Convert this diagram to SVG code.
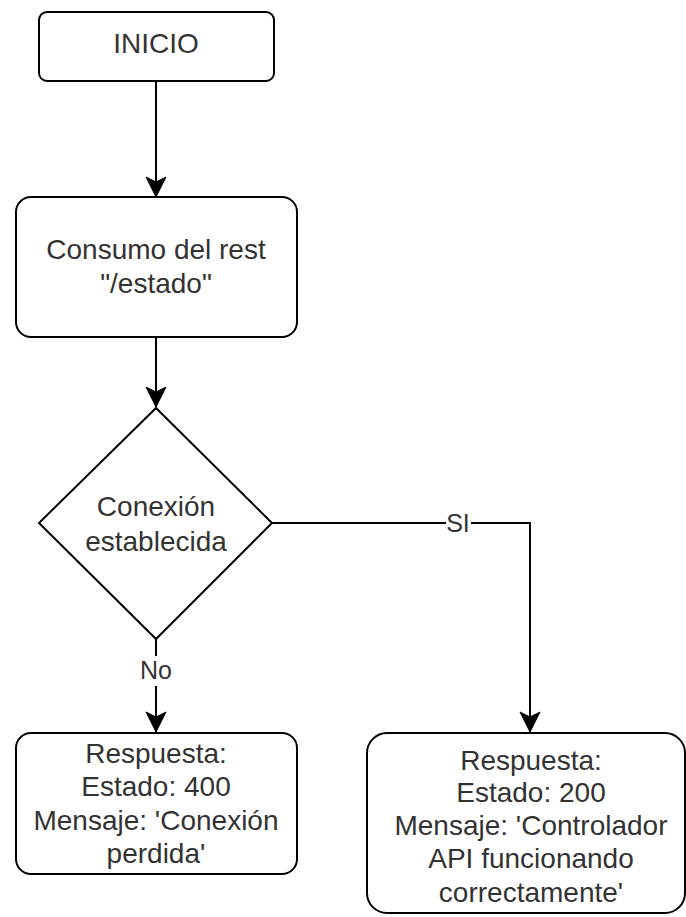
<svg xmlns="http://www.w3.org/2000/svg" width="686" height="917" viewBox="0 0 686 917">
<style>
.box{fill:#fff;stroke:#000;stroke-width:2}
.t{font-family:"Liberation Sans",Arial,sans-serif;font-size:28px;fill:#333;text-anchor:middle}
.lbl{font-family:"Liberation Sans",Arial,sans-serif;font-size:25px;fill:#333;text-anchor:middle}
.edge{fill:none;stroke:#000;stroke-width:2}
</style>
<defs>
<marker id="arr" markerUnits="userSpaceOnUse" markerWidth="24" markerHeight="24" viewBox="-22 -12 24 24" refX="0" refY="0" orient="auto">
<path d="M0,0 L-20,-10 L-15,0 L-20,10 Z" fill="#000" stroke="#000" stroke-width="1"/>
</marker>
</defs>
<rect width="686" height="917" fill="#fff"/>
<g id="connectors">
<path class="edge" d="M156,81 L156,197" marker-end="url(#arr)"/>
<path class="edge" d="M156,337 L156,407" marker-end="url(#arr)"/>
<path class="edge" d="M156,639 L156,732" marker-end="url(#arr)"/>
<path class="edge" d="M272,523 L530,523 L530,732" marker-end="url(#arr)"/>
<rect x="143" y="656" width="27" height="30" fill="#fff"/>
<text class="lbl" x="156" y="679">No</text>
<rect x="446" y="510" width="25" height="26" fill="#fff"/>
<text class="lbl" x="458" y="532">SI</text>
</g>
<g id="inicio">
<rect class="box" x="39" y="12" width="235" height="69" rx="8"/>
<text class="t" x="156" y="53">INICIO</text>
</g>
<g id="consumo">
<rect class="box" x="16" y="197" width="281" height="140" rx="15"/>
<text class="t" x="156" y="259">Consumo del rest</text>
<text class="t" x="156" y="293">"/estado"</text>
</g>
<g id="decision">
<path class="box" d="M156,408 L272,523 L156,639 L39,523 Z"/>
<text class="t" x="156" y="516">Conexión</text>
<text class="t" x="156" y="551">establecida</text>
</g>
<g id="error">
<rect class="box" x="16" y="733" width="281" height="141" rx="15"/>
<text class="t" x="156" y="763">Respuesta:</text>
<text class="t" x="156" y="796">Estado: 400</text>
<text class="t" x="156" y="830">Mensaje: 'Conexión</text>
<text class="t" x="156" y="863">perdida'</text>
</g>
<g id="ok">
<rect class="box" x="367" y="733" width="318" height="180" rx="20"/>
<text class="t" x="531" y="770">Respuesta:</text>
<text class="t" x="531" y="802">Estado: 200</text>
<text class="t" x="531" y="835">Mensaje: 'Controlador</text>
<text class="t" x="531" y="868">API funcionando</text>
<text class="t" x="531" y="902">correctamente'</text>
</g>
</svg>
